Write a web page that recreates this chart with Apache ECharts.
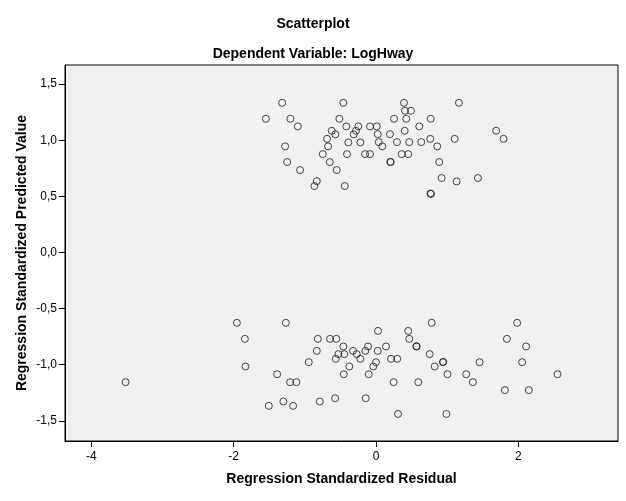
<!DOCTYPE html>
<html>
<head>
<meta charset="utf-8">
<script src="https://cdn.jsdelivr.net/npm/echarts@6/dist/echarts.min.js"></script>
<style>html,body{margin:0;padding:0;background:#fff}#c{width:626px;height:501px}</style>
</head>
<body>
<div id="c"></div>
<script>
// Regression standardized residual (x) and standardized predicted value (y)
const residual = [
  -1.319,-0.459,-1.548,-1.203,-1.099,-0.515,-0.417,-0.248,-0.084,0.010,
  -0.622,-0.571,-0.281,-0.313,-0.688,-0.674,-0.389,-0.220,-1.277,-0.748,
  -0.407,-0.154,-0.084,-1.249,-0.650,-1.067,-0.552,-0.832,-0.866,-0.439,
  0.393,1.165,0.407,0.491,0.253,0.425,0.768,0.608,0.024,0.196,
  0.403,0.038,0.088,0.295,0.467,0.636,0.762,0.860,1.105,1.688,
  1.792,0.361,0.453,0.206,0.200,0.888,0.922,1.133,1.432,0.772,0.765,
  -1.955,-1.267,-1.843,-0.818,-0.646,-0.557,-0.832,-0.529,-0.566,-0.945,
  -1.834,-1.389,-1.207,-1.119,-1.506,-1.301,-1.165,-0.790,-0.575,-3.519,
  -0.459,-0.445,0.028,0.453,0.467,0.782,0.571,0.566,-0.323,-0.271,
  -0.220,-0.150,-0.112,0.024,0.140,0.000,-0.038,-0.375,-0.453,-0.102,
  0.211,0.299,0.248,0.594,0.754,0.824,0.940,0.945,1.004,-0.145,
  0.309,0.989,1.983,1.839,2.109,2.053,1.455,1.267,1.361,1.811,
  2.147,2.550
];
const predicted = [
  1.333,1.333,1.191,1.191,1.123,1.191,1.123,1.123,1.123,1.123,
  1.084,1.052,1.084,1.052,1.012,0.945,0.980,0.980,0.945,0.876,
  0.876,0.876,0.876,0.805,0.805,0.734,0.734,0.635,0.591,0.591,
  1.333,1.333,1.262,1.262,1.191,1.191,1.191,1.123,1.054,1.054,
  1.084,0.983,0.945,0.983,0.983,0.983,1.012,0.945,1.012,1.084,
  1.012,0.876,0.876,0.805,0.807,0.805,0.663,0.633,0.663,0.522,0.525,
  -0.627,-0.627,-0.770,-0.770,-0.770,-0.770,-0.877,-0.906,-0.948,-0.978,
  -1.016,-1.085,-1.156,-1.156,-1.367,-1.328,-1.367,-1.328,-1.299,-1.156,
  -0.838,-0.906,-0.699,-0.699,-0.770,-0.627,-0.838,-0.836,-0.877,-0.906,
  -0.948,-0.877,-0.838,-0.877,-0.838,-0.978,-1.016,-1.016,-1.085,-1.085,
  -0.948,-0.948,-1.156,-1.156,-0.906,-1.016,-0.978,-0.975,-1.085,-1.299,
  -1.439,-1.439,-0.627,-0.770,-0.838,-0.978,-0.978,-1.085,-1.156,-1.227,
  -1.227,-1.085
];
const xTicks = [-4, -2, 0, 2];
const yTicks = [-1.5, -1.0, -0.5, 0.0, 0.5, 1.0, 1.5];

const points = residual.map((x, i) => [x, predicted[i]]);
const font = 'Liberation Sans, Arial, sans-serif';

const chart = echarts.init(document.getElementById('c'));
chart.setOption({
  animation: false,
  backgroundColor: '#ffffff',
  title: [
    { text: 'Scatterplot', left: 'center', top: 12,
      textStyle: { fontFamily: font, fontSize: 14, fontWeight: 'bold', color: '#000' } },
    { text: 'Dependent Variable: LogHway', left: 'center', top: 42,
      textStyle: { fontFamily: font, fontSize: 14, fontWeight: 'bold', color: '#000' } }
  ],
  grid: { left: 65, right: 8, top: 65, bottom: 60, show: true,
          backgroundColor: '#F0F0F0', borderColor: '#000', borderWidth: 1 },
  xAxis: {
    type: 'value', min: -4.37, max: 3.40,
    name: 'Regression Standardized Residual', nameLocation: 'middle', nameGap: 31,
    nameMoveOverlap: false,
    nameTextStyle: { fontFamily: font, fontSize: 14, fontWeight: 'bold', color: '#000' },
    axisLine: { show: true, onZero: false, lineStyle: { color: '#000', width: 1 } },
    axisTick: { show: true, length: 6, customValues: xTicks, lineStyle: { color: '#000' } },
    axisLabel: { customValues: xTicks, fontFamily: font, fontSize: 12, color: '#000', margin: 10,
                 showMinLabel: true, showMaxLabel: true },
    splitLine: { show: false }
  },
  yAxis: {
    type: 'value', min: -1.68, max: 1.67,
    name: 'Regression Standardized Predicted Value', nameLocation: 'middle', nameGap: 36,
    nameMoveOverlap: false,
    nameTextStyle: { fontFamily: font, fontSize: 14, fontWeight: 'bold', color: '#000' },
    axisLine: { show: true, onZero: false, lineStyle: { color: '#000', width: 1 } },
    axisTick: { show: true, length: 6, customValues: yTicks, lineStyle: { color: '#000' } },
    axisLabel: { customValues: yTicks, fontFamily: font, fontSize: 12, color: '#000', margin: 8,
                 formatter: v => v.toFixed(1).replace('.', ',') },
    splitLine: { show: false }
  },
  series: [{
    type: 'scatter',
    data: points,
    symbol: 'circle',
    symbolSize: 7,
    itemStyle: { color: 'rgba(0,0,0,0)', borderColor: '#1a1a1a', borderWidth: 1 }
  }]
});
</script>
</body>
</html>
